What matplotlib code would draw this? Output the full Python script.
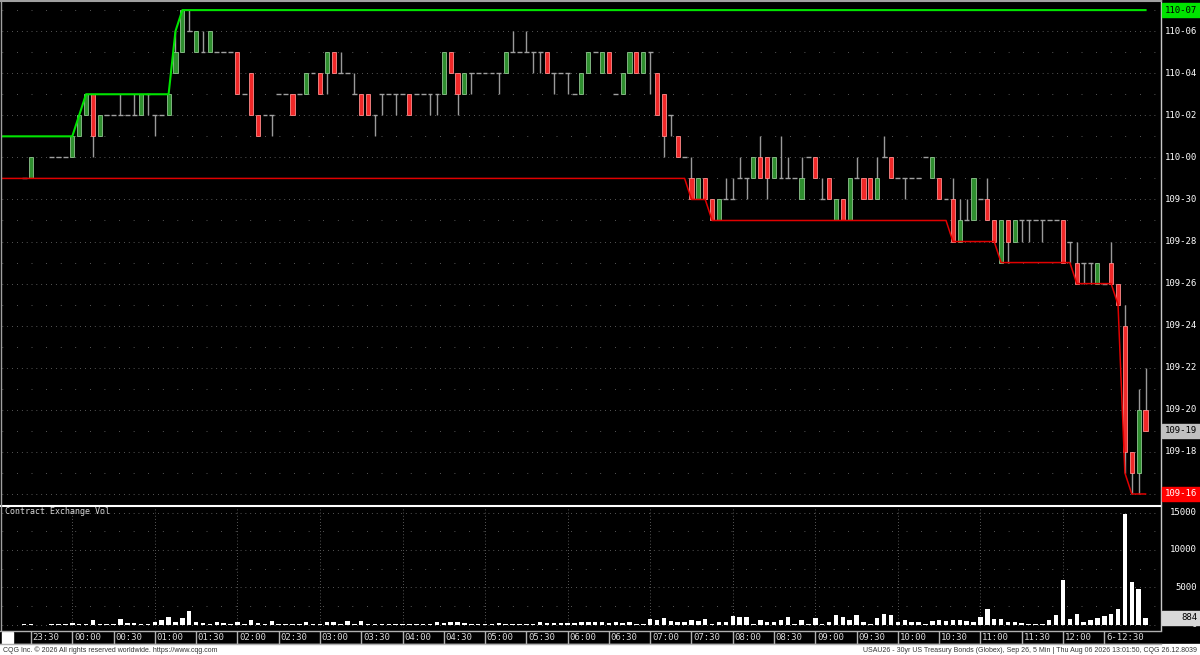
import numpy as np
import matplotlib.pyplot as plt
from matplotlib.patches import Rectangle
from matplotlib.lines import Line2D
import matplotlib.transforms as mtransforms

nan = np.nan

# 5 min bars, prices in 32nds above 109-00, first bar is 23:25
opens = [31, 31, nan, nan, 32, 32, 32, 32, 33, 34,
         35, 33, 34, 34, 34, 34, 34, 34, 35, 34,
         34, 34, 36, 37, 38, 37, 37, 37, 37, 37,
         37, 37, 35, 36, 34, 34, 34, 35, 35, 35,
         35, 35, 36, 36, 36, 37, 36, 36, 35, 35,
         35, 34, 35, 35, 35, 35, 35, 35, 35, 35,
         35, 35, 37, 36, 35, 36, 36, 36, 36, 36,
         36, 37, 37, 37, 37, 37, 37, 36, 36, 36,
         35, 35, 36, 37, 36, 37, 35, 35, 36, 37,
         36, 37, 36, 35, 34, 33, 32, 31, 30, 31,
         30, 29, 30, 30, 31, 31, 31, 32, 32, 31,
         31, 31, 31, 30, 32, 32, 30, 31, 29, 30,
         29, 31, 31, 31, 30, 32, 32, 31, 31, 31,
         31, 32, 31, 31, 30, 30, 28, 29, 29, 30,
         30, 29, 27, 29, 28, 29, 29, 29, 29, 29,
         29, 29, 28, 27, 27, 27, 26, 26, 27, 26,
         24, 18, 17, 20]
highs = [31, 32, nan, nan, 32, 32, 32, 33, 34, 35,
         35, 34, 34, 34, 35, 34, 35, 35, 35, 34,
         34, 35, 38, 39, 39, 38, 38, 38, 37, 37,
         37, 37, 35, 36, 34, 34, 34, 35, 35, 35,
         35, 36, 36, 36, 37, 37, 37, 36, 36, 35,
         35, 34, 35, 35, 35, 35, 35, 35, 35, 35,
         35, 37, 37, 36, 36, 36, 36, 36, 36, 36,
         37, 38, 37, 38, 37, 37, 37, 36, 36, 36,
         35, 36, 37, 37, 37, 37, 35, 36, 37, 37,
         37, 37, 36, 35, 34, 33, 32, 32, 31, 31,
         30, 30, 31, 31, 32, 31, 32, 33, 32, 32,
         33, 32, 31, 32, 32, 32, 31, 31, 30, 30,
         31, 32, 31, 31, 32, 33, 32, 31, 31, 31,
         31, 32, 32, 31, 30, 31, 30, 30, 31, 30,
         31, 29, 29, 29, 29, 29, 29, 29, 29, 29,
         29, 29, 28, 28, 27, 27, 27, 26, 28, 26,
         25, 18, 21, 22]
lows = [31, 31, nan, nan, 32, 32, 32, 32, 33, 34,
        32, 33, 34, 34, 34, 34, 34, 34, 34, 33,
        34, 34, 36, 37, 38, 37, 37, 37, 37, 37,
        37, 35, 35, 34, 33, 34, 33, 35, 35, 34,
        35, 35, 36, 35, 35, 36, 36, 36, 35, 34,
        34, 33, 34, 35, 34, 35, 34, 35, 35, 34,
        34, 35, 36, 34, 35, 35, 36, 36, 36, 35,
        36, 37, 37, 37, 36, 36, 36, 35, 36, 35,
        35, 35, 36, 37, 36, 36, 35, 35, 36, 36,
        36, 35, 34, 32, 33, 32, 32, 30, 30, 30,
        29, 29, 30, 30, 31, 30, 31, 31, 30, 31,
        31, 31, 31, 30, 32, 31, 30, 30, 29, 29,
        29, 31, 30, 30, 30, 32, 31, 31, 30, 31,
        31, 32, 31, 30, 30, 28, 28, 29, 29, 30,
        29, 28, 27, 27, 28, 28, 28, 29, 28, 29,
        29, 27, 27, 26, 26, 26, 26, 26, 26, 25,
        17, 16, 16, 19]
closes = [31, 32, nan, nan, 32, 32, 32, 33, 34, 35,
          33, 34, 34, 34, 34, 34, 34, 35, 35, 34,
          34, 35, 37, 39, 38, 38, 37, 38, 37, 37,
          37, 35, 35, 34, 33, 34, 34, 35, 35, 34,
          35, 36, 36, 35, 37, 36, 36, 36, 35, 34,
          34, 34, 35, 35, 35, 35, 34, 35, 35, 35,
          35, 37, 36, 35, 36, 36, 36, 36, 36, 36,
          37, 37, 37, 37, 37, 37, 36, 36, 36, 36,
          35, 36, 37, 37, 37, 36, 35, 36, 37, 36,
          37, 37, 34, 33, 34, 32, 32, 30, 31, 30,
          29, 30, 30, 30, 31, 31, 32, 31, 31, 32,
          31, 31, 31, 31, 32, 31, 30, 30, 30, 29,
          31, 31, 30, 30, 31, 32, 31, 31, 31, 31,
          31, 32, 32, 30, 30, 28, 29, 29, 31, 30,
          29, 28, 29, 28, 29, 29, 29, 29, 29, 29,
          29, 27, 28, 26, 27, 27, 27, 26, 26, 25,
          18, 17, 20, 19]
volumes = [90, 90, nan, nan, 90, 90, 90, 220, 90, 90,
           580, 90, 90, 90, 715, 220, 220, 90, 90, 360,
           580, 1030, 400, 900, 1830, 310, 180, 90, 310, 220,
           90, 310, 90, 580, 180, 90, 490, 90, 90, 90,
           90, 310, 90, 90, 360, 360, 130, 450, 130, 450,
           90, 90, 90, 90, 90, 90, 90, 90, 90, 90,
           360, 220, 310, 310, 180, 90, 90, 90, 90, 180,
           90, 90, 90, 90, 90, 310, 220, 220, 220, 220,
           220, 360, 270, 270, 360, 180, 270, 220, 400, 90,
           90, 760, 540, 900, 490, 400, 360, 580, 450, 760,
           90, 270, 400, 1160, 980, 980, 90, 580, 310, 310,
           540, 1070, 90, 540, 90, 900, 90, 360, 1250, 980,
           630, 1250, 310, 90, 900, 1430, 1250, 310, 630, 310,
           360, 90, 490, 630, 490, 630, 630, 490, 360, 980,
           2100, 760, 800, 360, 400, 180, 90, 90, 90, 630,
           1250, 5900, 800, 1430, 270, 630, 900, 1160, 1430, 2100,
           14800, 5700, 4800, 884]

# running extremes carried in from before the visible window
prior_high = 33
prior_low = 31

time_labels = ["23:30", "00:00", "00:30", "01:00", "01:30", "02:00", "02:30",
               "03:00", "03:30", "04:00", "04:30", "05:00", "05:30", "06:00",
               "06:30", "07:00", "07:30", "08:00", "08:30", "09:00", "09:30",
               "10:00", "10:30", "11:00", "11:30", "12:00", "6-12:30"]
title_left = "CQG Inc. \u00a9 2026 All rights reserved worldwide. https://www.cqg.com"
title_right = ("USAU26 - 30yr US Treasury Bonds (Globex), Sep 26, 5 Min | "
               "Thu Aug 06 2026 13:01:50, CQG 26.12.8039")

o = np.array(opens, float)
h = np.array(highs, float)
l = np.array(lows, float)
c = np.array(closes, float)
v = np.array(volumes, float)
x = np.arange(len(o))


def fmt(p):
    return f"{109 + int(p) // 32}-{int(p) % 32:02d}"


W, H = 1200, 655
fig = plt.figure(figsize=(W / 100, H / 100), dpi=100, facecolor='black')


def fx(px):
    return px / W


def fy(py):
    return 1 - py / H


mono = 'DejaVu Sans Mono'
xl = (-3.215, 164.81)

# price pane
ax = fig.add_axes([fx(2), fy(505), fx(1158) - fx(2), fy(4) - fy(505)])
ax.set_facecolor('black')
ax.set_xlim(*xl)
ax.set_ylim(15.477, 39.29)
ax.axis('off')
for p in range(16, 40):
    dense = p % 2 == 0
    ax.axhline(p, color='#7a7a7a', lw=0.7,
               ls=(0, (0.7, 4.3)) if dense else (0, (0.7, 14.3)), zorder=0)

ok = ~np.isnan(o)
ax.vlines(x[ok], l[ok], h[ok], color='#9a9a9a', lw=1.0, zorder=2)
up = ok & (c > o)
dn = ok & (c < o)
dj = ok & (c == o)
ax.bar(x[up], (c - o)[up], bottom=o[up], width=0.6, color='#2f8f2f',
       edgecolor='#8fc48f', lw=0.6, zorder=3)
ax.bar(x[dn], (o - c)[dn], bottom=c[dn], width=0.6, color='#f02828',
       edgecolor='#ff8c8c', lw=0.6, zorder=3)
ax.hlines(c[dj], x[dj] - 0.35, x[dj] + 0.35, color='#a0a0a0', lw=1.0, zorder=3)

hi_line = np.fmax.accumulate(np.r_[prior_high, h])
lo_line = np.fmin.accumulate(np.r_[prior_low, l])
xline = np.r_[xl[0], x]
ax.plot(xline, hi_line, color='#00e400', lw=1.5, zorder=4)
ax.plot(xline, lo_line, color='#e00000', lw=1.1, zorder=4)

# volume pane
axv = fig.add_axes([fx(2), fy(628), fx(1158) - fx(2), fy(507) - fy(628)])
axv.set_facecolor('black')
axv.set_xlim(*xl)
axv.set_ylim(-469, 15745)
axv.axis('off')
for val in range(0, 15001, 2500):
    dense = val % 5000 == 0
    axv.axhline(val, color='#7a7a7a', lw=0.7,
                ls=(0, (0.7, 4.3)) if dense else (0, (0.7, 14.3)), zorder=0)
tick_x = 1 + 6 * np.arange(len(time_labels))
for tx, lab in zip(tick_x, time_labels):
    if lab.endswith(":00"):
        axv.axvline(tx, color='#7a7a7a', lw=0.7, ls=(0, (0.7, 2.5)), zorder=0)
vok = ~np.isnan(v)
axv.bar(x[vok], v[vok], width=0.65, color='white', zorder=3)
fig.text(fx(5), fy(512), "Contract Exchange Vol", color='#d8d8d8',
         fontsize=6, family=mono, va='center', ha='left')

# frame lines
fig.add_artist(Line2D([0, fx(1161)], [fy(505.5)] * 2, color='white', lw=1.5))
fig.add_artist(Line2D([fx(1161)] * 2, [fy(0), fy(630)], color='#c8c8c8', lw=1.0))
fig.add_artist(Line2D([0, fx(1161)], [fy(0.5)] * 2, color='#a0a0a0', lw=1.5))
fig.add_artist(Line2D([fx(0.5)] * 2, [fy(0), fy(630)], color='#a0a0a0', lw=1.0))

# right price scale
tp = mtransforms.blended_transform_factory(fig.transFigure, ax.transData)
for p in range(18, 39, 2):
    fig.text(fx(1197), p, fmt(p), transform=tp, color='white', fontsize=6.5,
             family=mono, ha='right', va='center')
last = c[~np.isnan(c)][-1]
for val, fc, tc in [(hi_line[-1], '#00e400', 'black'),
                    (lo_line[-1], '#ff0000', 'white'),
                    (last, '#c0c0c0', 'black')]:
    fig.add_artist(Rectangle((fx(1162), val - 0.33), fx(1200) - fx(1162), 0.66,
                             transform=tp, color=fc, zorder=5))
    fig.text(fx(1197), val, fmt(val), transform=tp, color=tc, fontsize=6.5,
             family=mono, ha='right', va='center', zorder=6)

# right volume scale
tv = mtransforms.blended_transform_factory(fig.transFigure, axv.transData)
for val in [15000, 10000, 5000, 0]:
    fig.text(fx(1197), val, str(val), transform=tv, color='white', fontsize=6.5,
             family=mono, ha='right', va='center')
fig.add_artist(Rectangle((fx(1162), v[-1] - 900), fx(1200) - fx(1162), 1800,
                         transform=tv, color='#d8d8d8', zorder=5))
fig.text(fx(1197), v[-1], str(int(v[-1])), transform=tv, color='black',
         fontsize=6.5, family=mono, ha='right', va='center', zorder=6)

# time strip
tt = mtransforms.blended_transform_factory(ax.transData, fig.transFigure)
fig.add_artist(Line2D([0, fx(1161)], [fy(631)] * 2, color='#b0b0b0', lw=1.0))
fig.add_artist(Line2D([0, fx(1161)], [fy(643.5)] * 2, color='#b0b0b0', lw=1.0))
fig.add_artist(Rectangle((fx(2), fy(643)), fx(11), fy(632) - fy(643),
                         color='white'))
for tx, lab in zip(tick_x, time_labels):
    fig.add_artist(Line2D([tx, tx], [fy(643), fy(632)], transform=tt,
                          color='#b0b0b0', lw=1.0))
    fig.text(tx + 0.25, fy(637.5), lab, transform=tt, color='#d8d8d8',
             fontsize=6.5, family=mono, ha='left', va='center')

# footer
fig.add_artist(Rectangle((0, 0), 1, fy(644), color='white'))
fig.text(fx(3), fy(650), title_left, color='#333333', fontsize=5,
         family='Liberation Sans', ha='left', va='center')
fig.text(fx(1197), fy(650), title_right, color='#333333', fontsize=5,
         family='Liberation Sans', ha='right', va='center')

fig.savefig('out.png', dpi=100, facecolor='black')
